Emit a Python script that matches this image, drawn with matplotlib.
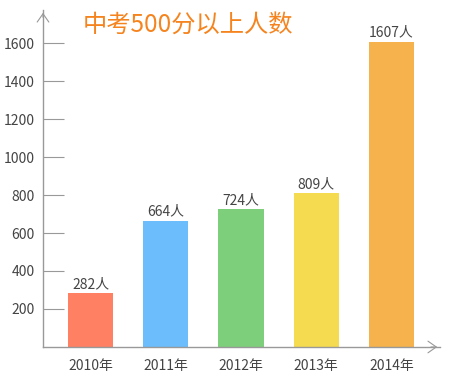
import numpy as np
import matplotlib.pyplot as plt

plt.rcParams['font.family'] = ['Noto Sans CJK SC', 'DejaVu Sans']

# 数据
years = ['2010年', '2011年', '2012年', '2013年', '2014年']
counts = [282, 664, 724, 809, 1607]
colors = ['#FF8062', '#6CBDFB', '#7DCF7B', '#F4DB4F', '#F5B24D']
yticks = [200, 400, 600, 800, 1000, 1200, 1400, 1600]

fig = plt.figure(figsize=(4.59, 3.84), dpi=100)
ax = fig.add_axes([0.0937, 0.0964, 0.865, 0.8776])

x = np.arange(len(years))
ax.bar(x, counts, width=0.6, color=colors, zorder=2)

for xi, v in zip(x, counts):
    ax.text(xi, v + 12, f'{v}人', ha='center', va='bottom', fontsize=10, color='#444444')

ax.set_xlim(-0.631, 4.644)
ax.set_ylim(0, 1774)

ax.set_yticks(yticks)
ax.set_yticklabels([str(t) for t in yticks], fontsize=10, color='#444444')
ax.set_xticks(x)
ax.set_xticklabels(years, fontsize=10, color='#444444')

ax.tick_params(axis='y', direction='in', length=15, color='#999999', pad=6)
ax.tick_params(axis='x', length=0, pad=9)

for s in ['top', 'right']:
    ax.spines[s].set_visible(False)
for s in ['left', 'bottom']:
    ax.spines[s].set_color('#999999')
    ax.spines[s].set_linewidth(1)

# 坐标轴箭头
arrow = dict(arrowstyle='->, head_length=0.5, head_width=0.35', color='#999999',
             lw=0.8, mutation_scale=12)
ax.annotate('', xy=(0, 1.0), xytext=(0, 0.97), xycoords='axes fraction',
            arrowprops=arrow)
ax.annotate('', xy=(1.0, 0), xytext=(0.97, 0), xycoords='axes fraction',
            arrowprops=arrow)

fig.text(0.181, 0.935, '中考500分以上人数', fontsize=17.5, color='#F5841F',
         ha='left', va='center')

fig.savefig('out.png', dpi=100)
